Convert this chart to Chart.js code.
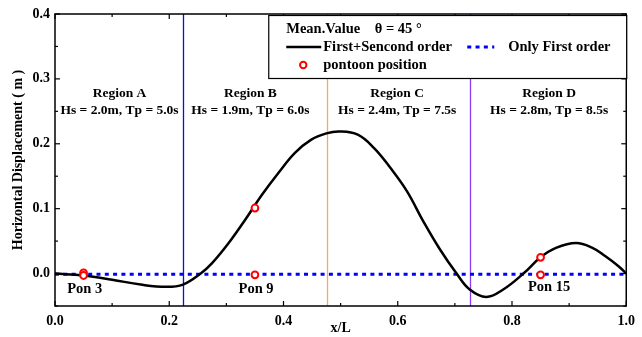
<!DOCTYPE html>
<html><head><meta charset="utf-8">
<script src="https://cdn.jsdelivr.net/npm/chart.js@4/dist/chart.umd.min.js"></script>
<style>html,body{margin:0;padding:0;background:#fff;} #wrap{width:642px;height:337px;}</style>
</head><body><div id="wrap"><canvas id="c" width="642" height="337"></canvas></div>
<script>
// ---- data ----
const xCurve = [0, 0.05, 0.1, 0.15, 0.194, 0.224, 0.255, 0.275, 0.304, 0.333, 0.362, 0.391, 0.42, 0.448, 0.475, 0.498, 0.53, 0.559, 0.587, 0.616, 0.645, 0.674, 0.703, 0.726, 0.755, 0.784, 0.82, 0.85, 0.877, 0.912, 0.94, 0.963, 0.987, 1.0];
const yCurve = [0, -0.003, -0.0095, -0.017, -0.0205, -0.017, 0.0, 0.016, 0.047, 0.083, 0.121, 0.155, 0.186, 0.206, 0.216, 0.219, 0.214, 0.193, 0.163, 0.127, 0.080, 0.037, 0.0, -0.0246, -0.036, -0.025, 0.0, 0.025, 0.0395, 0.047, 0.040, 0.027, 0.011, 0.0];
const xFirst = [0, 0.1, 0.2, 0.3, 0.4, 0.5, 0.6, 0.7, 0.8, 0.9, 1.0];
const yFirst = [-0.001, -0.001, -0.001, -0.001, -0.001, -0.001, -0.001, -0.001, -0.001, -0.001, -0.001];
const pontoonX = [0.05, 0.05, 0.35, 0.35, 0.85, 0.85];
const pontoonY = [0.001, -0.003, 0.101, -0.002, 0.025, -0.002];
const pontoonNames = ['Pon 3', 'Pon 9', 'Pon 15'];
const pontoonLabelX = [0.052, 0.352, 0.865];
const pontoonLabelY = [-0.0235, -0.0235, -0.021];
const regionNames = ['Region A', 'Region B', 'Region C', 'Region D'];
const regionConds = ['Hs = 2.0m, Tp = 5.0s', 'Hs = 1.9m, Tp = 6.0s', 'Hs = 2.4m, Tp = 7.5s', 'Hs = 2.8m, Tp = 8.5s'];
const regionCenterX = [0.113, 0.342, 0.599, 0.865];
const regionNameY = 0.277;
const regionCondY = 0.251;
const boundaryX = [0.224, 0.476, 0.726];
const xTicks = [0, 0.2, 0.4, 0.6, 0.8, 1.0];
const yTicks = [0, 0.1, 0.2, 0.3, 0.4];
const legendTitle = 'Mean.Value    θ = 45 °';

// ---- styles ----
const FONT = '"Liberation Serif", "Times New Roman", serif';
const boundaryColors = ['#1010c8', '#f5a862', '#8a3cf0'];

const pts = (xs, ys) => xs.map((x, i) => ({x, y: ys[i]}));

const overlay = {
  id: 'overlay',
  beforeDatasetsDraw(chart) {
    const {ctx, chartArea: a, scales: {x}} = chart;
    ctx.save();
    ctx.lineWidth = 1.3;
    boundaryX.forEach((v, i) => {
      const px = Math.round(x.getPixelForValue(v)) + 0.5;
      ctx.strokeStyle = boundaryColors[i];
      ctx.beginPath(); ctx.moveTo(px, a.top); ctx.lineTo(px, a.bottom); ctx.stroke();
    });
    ctx.restore();
  },
  afterDatasetsDraw(chart) {
    const {ctx, chartArea: a, scales: {x, y}} = chart;
    ctx.save();
    ctx.fillStyle = '#000';
    ctx.textAlign = 'center';
    ctx.textBaseline = 'middle';
    ctx.font = 'bold 13.5px ' + FONT;
    regionNames.forEach((n, i) => {
      const px = x.getPixelForValue(regionCenterX[i]);
      ctx.fillText(n, px, y.getPixelForValue(regionNameY));
      ctx.fillText(regionConds[i], px, y.getPixelForValue(regionCondY));
    });
    ctx.font = 'bold 14.5px ' + FONT;
    pontoonNames.forEach((n, i) => {
      ctx.fillText(n, x.getPixelForValue(pontoonLabelX[i]), y.getPixelForValue(pontoonLabelY[i]));
    });
    // frame
    ctx.strokeStyle = '#000';
    ctx.lineWidth = 1.5;
    ctx.strokeRect(a.left, a.top, a.right - a.left, a.bottom - a.top);
    // inner ticks
    ctx.lineWidth = 1.2;
    const tk = (x1, y1, x2, y2) => { ctx.beginPath(); ctx.moveTo(x1, y1); ctx.lineTo(x2, y2); ctx.stroke(); };
    for (let k = 0; k <= 10; k++) {
      const v = k * 0.1;
      const px = x.getPixelForValue(v);
      const len = (k % 2 === 0) ? 5 : 3;
      tk(px, a.bottom, px, a.bottom - len);
      tk(px, a.top, px, a.top + len);
    }
    for (let k = -1; k <= 8; k++) {
      const v = k * 0.05;
      const py = y.getPixelForValue(v);
      const len = (k % 2 === 0) ? 5 : 3;
      tk(a.left, py, a.left + len, py);
      tk(a.right, py, a.right - len, py);
    }
    // legend
    const ds = chart.data.datasets;
    const bw = 358, bh = 63;
    const bx = a.right - bw, by = a.top + 1;
    ctx.fillStyle = '#fff';
    ctx.fillRect(bx, by, bw, bh);
    ctx.lineWidth = 1.2;
    ctx.strokeStyle = '#000';
    ctx.strokeRect(bx + 0.5, by + 0.5, bw, bh);
    ctx.fillStyle = '#000';
    ctx.textAlign = 'left';
    ctx.font = 'bold 14.5px ' + FONT;
    ctx.fillText(legendTitle, bx + 18, by + 14);
    ctx.lineWidth = 2.5;
    tk(bx + 18, by + 32, bx + 53, by + 32);
    ctx.fillText(ds[0].label, bx + 55, by + 32);
    ctx.strokeStyle = '#0000ff';
    ctx.lineWidth = 3;
    ctx.setLineDash([4, 4.3]);
    tk(bx + 199, by + 32, bx + 226, by + 32);
    ctx.setLineDash([]);
    ctx.fillText(ds[1].label, bx + 240, by + 32);
    ctx.strokeStyle = '#ff0000';
    ctx.lineWidth = 2;
    ctx.beginPath(); ctx.arc(bx + 35, by + 50, 3.2, 0, Math.PI * 2); ctx.stroke();
    ctx.fillText(ds[2].label, bx + 55, by + 50);
    ctx.restore();
  }
};

new Chart(document.getElementById('c'), {
  type: 'line',
  data: {
    datasets: [
      { label: 'First+Sencond order', data: pts(xCurve, yCurve), borderColor: '#000', borderWidth: 2.5,
        pointRadius: 0, tension: 0.4, order: 2 },
      { label: 'Only First order', data: pts(xFirst, yFirst), borderColor: '#0000ff', borderWidth: 3,
        borderDash: [4, 4.3], pointRadius: 0, order: 3 },
      { label: 'pontoon position', data: pts(pontoonX, pontoonY), showLine: false, borderColor: '#ff0000',
        backgroundColor: '#fff', pointRadius: 3.4, pointBorderWidth: 2, order: 1 }
    ]
  },
  options: {
    responsive: false,
    animation: false,
    devicePixelRatio: 1,
    layout: { padding: { top: 14, right: 11, left: 0, bottom: 0 } },
    plugins: { legend: { display: false }, tooltip: { enabled: false } },
    scales: {
      x: {
        type: 'linear', min: 0, max: 1,
        grid: { display: false, drawTicks: false },
        border: { display: false },
        afterBuildTicks: s => { s.ticks = xTicks.map(v => ({value: v})); },
        afterFit: s => { s.height = 31; },
        ticks: { padding: 7, color: '#000', font: { family: FONT, size: 14, weight: 'bold' },
          callback: v => Number(v).toFixed(1) },
        title: { display: true, text: 'x/L', color: '#000', padding: { top: 0, bottom: 0 },
          font: { family: FONT, size: 14, weight: 'bold' } }
      },
      y: {
        type: 'linear', min: -0.05, max: 0.4,
        grid: { display: false, drawTicks: false },
        border: { display: false },
        afterBuildTicks: s => { s.ticks = yTicks.map(v => ({value: v})); },
        afterFit: s => { s.width = 55; },
        ticks: { padding: 5, color: '#000', font: { family: FONT, size: 14, weight: 'bold' },
          callback: v => Number(v).toFixed(1) },
        title: { display: true, text: 'Horizontal Displacement ( m )', color: '#000', padding: { top: 10, bottom: 10 },
          font: { family: FONT, size: 14, weight: 'bold' } }
      }
    }
  },
  plugins: [overlay]
});
</script></body></html>
